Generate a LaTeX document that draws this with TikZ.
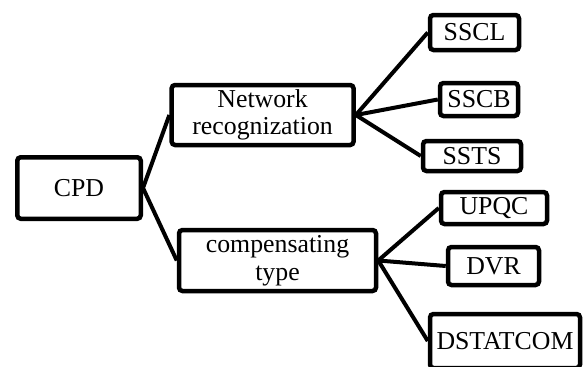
\documentclass[tikz,border=0pt]{standalone}
\usepackage{fontspec}
\setmainfont{Liberation Serif}
\begin{document}
\begin{tikzpicture}[x=1pt,y=-1pt,
  box/.style={draw=black,line width=4.5pt,rounded corners=3.5pt,inner sep=0pt,align=center,
    font=\fontsize{25.8}{27.5}\selectfont},
  conn/.style={line width=4pt}]
\useasboundingbox (0,0) rectangle (584,367);
\node[box,minimum width=123.5pt,minimum height=61.5pt] (cpd) at (79,188) {CPD};
\node[box,minimum width=182pt,minimum height=60pt] (net) at (262.6,115) {Network\\recognization};
\node[box,minimum width=197pt,minimum height=61pt] (comp) at (277.5,260.5) {compensating\\type};
\node[box,minimum width=89pt,minimum height=35pt] (sscl) at (474.5,32.5) {SSCL};
\node[box,minimum width=78pt,minimum height=33pt] (sscb) at (479,99.5) {SSCB};
\node[box,minimum width=98pt,minimum height=30pt] (ssts) at (472,156) {SSTS};
\node[box,minimum width=106pt,minimum height=32pt] (upqc) at (494,208) {UPQC};
\node[box,minimum width=91pt,minimum height=38pt] (dvr) at (493.5,266) {DVR};
\node[box,minimum width=150pt,minimum height=54pt] (dstat) at (505,341) {DSTATCOM};
\draw[conn] (cpd.east) -- (net.west);
\draw[conn] (cpd.east) -- (comp.west);
\draw[conn] (net.east) -- (sscl.west);
\draw[conn] (net.east) -- (sscb.west);
\draw[conn] (net.east) -- (ssts.west);
\draw[conn] (comp.east) -- (upqc.west);
\draw[conn] (comp.east) -- (dvr.west);
\draw[conn] (comp.east) -- (dstat.west);
\end{tikzpicture}
\end{document}
